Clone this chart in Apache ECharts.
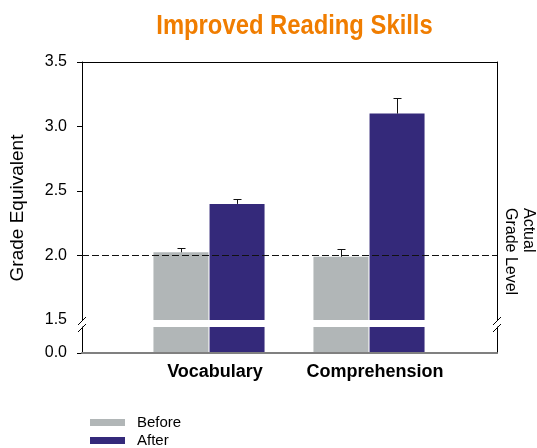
<!DOCTYPE html>
<html>
<head>
<meta charset="utf-8">
<script src="https://cdn.jsdelivr.net/npm/echarts@6/dist/echarts.min.js"></script>
<style>html,body{margin:0;padding:0;background:#fff;}#c{width:537px;height:448px;}</style>
</head>
<body>
<div id="c"></div>
<script>
// ---- data ----
var categories = ['Vocabulary', 'Comprehension'];
var beforeValues = [2.025, 1.99];
var afterValues = [2.40, 3.10];
var beforeErr = [0.03, 0.06];
var afterErr = [0.04, 0.12];
var actualGradeLevel = 2.0;
var topTickLabels = [1.5, 2.0, 2.5, 3.0, 3.5];
var bottomTickLabels = [0.0];

// ---- layout ----
var L = 82, W = 415, TOP = 62, TOPH = 258, BOT = 327, BOTH = 26;
var BL = 129, BW = 320;
var BAR_W = 55;
var GRAY = '#b1b6b7', PURPLE = '#34297a';
var FONT = 'Liberation Sans, Arial, Helvetica, sans-serif';

var chart = echarts.init(document.getElementById('c'), null, {renderer: 'canvas'});

function errData(vals, errs, sign) {
  return vals.map(function (v, i) { return [i, v, errs[i], sign]; });
}
function renderErr(params, api) {
  var ci = api.value(0), v = api.value(1), e = api.value(2), s = api.value(3);
  var p0 = api.coord([ci, v]);
  var p1 = api.coord([ci, v + e]);
  var x = Math.round(p0[0] + s * (BAR_W + 1) / 2) + 0.5;
  var yb = p0[1], yt = Math.round(p1[1]) + 0.5;
  var st = {stroke: '#111', lineWidth: 1};
  return {type: 'group', children: [
    {type: 'line', shape: {x1: x, y1: yb, x2: x, y2: yt}, style: st},
    {type: 'line', shape: {x1: x - 4, y1: yt, x2: x + 4, y2: yt}, style: st}
  ]};
}

var hidden = {show: false};
var option = {
  animation: false,
  backgroundColor: '#fff',
  legend: {
    data: ['Before', 'After'],
    orient: 'vertical', left: 90, top: 414, width: 150, height: 60, padding: 0,
    itemWidth: 35, itemHeight: 7, itemGap: 1, icon: 'rect',
    textStyle: {fontFamily: FONT, fontSize: 15, color: '#000', lineHeight: 17, padding: [0, 0, 0, 7]}
  },
  grid: [
    {left: L, top: TOP, width: W, height: TOPH},
    {left: BL, top: TOP, width: BW, height: TOPH},
    {left: L, top: BOT, width: W, height: BOTH},
    {left: BL, top: BOT, width: BW, height: BOTH}
  ],
  xAxis: [
    {gridIndex: 0, type: 'value', min: 0, max: 1, position: 'top',
     axisLine: {show: true, onZero: false, lineStyle: {color: '#000', width: 1}},
     axisTick: hidden, axisLabel: hidden, splitLine: hidden},
    {gridIndex: 1, type: 'category', data: categories, show: false},
    {gridIndex: 2, type: 'value', min: 0, max: 1, position: 'bottom',
     axisLine: {show: true, onZero: false, lineStyle: {color: '#808080', width: 2}},
     axisTick: hidden, axisLabel: hidden, splitLine: hidden, z: 3},
    {gridIndex: 3, type: 'category', data: categories, position: 'bottom',
     axisLine: hidden, axisTick: hidden, splitLine: hidden,
     axisLabel: {show: true, interval: 0, hideOverlap: false, margin: 10, fontFamily: FONT, fontWeight: 'bold', fontSize: 18, color: '#000', padding: [0, 0, 0, 12]}}
  ],
  yAxis: [
    {gridIndex: 0, type: 'value', position: 'left', min: topTickLabels[0], max: topTickLabels[topTickLabels.length - 1], interval: 0.5,
     axisLine: {show: true, onZero: false, lineStyle: {color: '#000', width: 1}},
     axisTick: {show: true, inside: false, length: 5, lineStyle: {color: '#000'}, customValues: topTickLabels.slice(1)},
     axisLabel: {show: true, margin: 15, fontFamily: FONT, fontSize: 16, color: '#000', customValues: topTickLabels,
                 formatter: function (v) { return Number(v).toFixed(1); }},
     splitLine: hidden},
    {gridIndex: 0, type: 'value', position: 'right', min: 1.5, max: 3.5,
     axisLine: {show: true, onZero: false, lineStyle: {color: '#000', width: 1}},
     axisTick: hidden, axisLabel: hidden, splitLine: hidden},
    {gridIndex: 1, type: 'value', min: 1.5, max: 3.5, show: false, splitLine: hidden},
    {gridIndex: 2, type: 'value', position: 'left', min: 0, max: 0.2,
     axisLine: {show: true, onZero: false, lineStyle: {color: '#000', width: 1}},
     axisTick: {show: true, inside: false, length: 5, lineStyle: {color: '#000'}, customValues: bottomTickLabels},
     axisLabel: {show: true, margin: 15, fontFamily: FONT, fontSize: 16, color: '#000', customValues: bottomTickLabels,
                 formatter: function (v) { return Number(v).toFixed(1); }},
     splitLine: hidden},
    {gridIndex: 2, type: 'value', position: 'right', min: 0, max: 0.2,
     axisLine: {show: true, onZero: false, lineStyle: {color: '#000', width: 1}},
     axisTick: hidden, axisLabel: hidden, splitLine: hidden},
    {gridIndex: 3, type: 'value', min: 0, max: 0.2, show: false, splitLine: hidden}
  ],
  series: [
    {name: 'Before', type: 'bar', xAxisIndex: 1, yAxisIndex: 2, data: beforeValues, barWidth: BAR_W, barGap: '2%',
     itemStyle: {color: GRAY}, clip: true},
    {name: 'After', type: 'bar', xAxisIndex: 1, yAxisIndex: 2, data: afterValues, barWidth: BAR_W, barGap: '2%',
     itemStyle: {color: PURPLE}, clip: true},
    {name: 'Before', type: 'bar', xAxisIndex: 3, yAxisIndex: 5, data: beforeValues, barWidth: BAR_W, barGap: '2%',
     itemStyle: {color: GRAY}, clip: true},
    {name: 'After', type: 'bar', xAxisIndex: 3, yAxisIndex: 5, data: afterValues, barWidth: BAR_W, barGap: '2%',
     itemStyle: {color: PURPLE}, clip: true},
    {name: 'errBefore', type: 'custom', xAxisIndex: 1, yAxisIndex: 2, renderItem: renderErr,
     data: errData(beforeValues, beforeErr, -1), z: 4},
    {name: 'errAfter', type: 'custom', xAxisIndex: 1, yAxisIndex: 2, renderItem: renderErr,
     data: errData(afterValues, afterErr, 1), z: 4},
    {name: 'Actual Grade Level', type: 'line', xAxisIndex: 0, yAxisIndex: 0,
     data: [[0, actualGradeLevel], [1, actualGradeLevel]], symbol: 'none', z: 5,
     lineStyle: {color: '#111', width: 1, type: [7, 3]}}
  ],
  graphic: []
};

// break marks, title and rotated texts
var g = [];
[L, L + W].forEach(function (x) {
  [TOP + TOPH + 1, BOT + 1].forEach(function (y) {
    g.push({type: 'line', shape: {x1: x - 4, y1: y + 4, x2: x + 4, y2: y - 4},
            style: {stroke: '#000', lineWidth: 1}, z: 10});
  });
});
g.push({type: 'text', x: 294.5, y: 12, scaleX: 0.85, scaleY: 1,
  style: {text: 'Improved Reading Skills', fontFamily: FONT, fontWeight: 'bold', fontSize: 28, fill: '#f07d00',
          textAlign: 'center', textVerticalAlign: 'top'}});
g.push({type: 'text', x: 18, y: 208, rotation: Math.PI / 2,
  style: {text: 'Grade Equivalent', fontFamily: FONT, fontSize: 19, fill: '#000', textAlign: 'center', textVerticalAlign: 'middle'}});
g.push({type: 'text', x: 537, y: 208, rotation: -Math.PI / 2,
  style: {text: 'Actual\nGrade Level', fontFamily: FONT, fontSize: 16, lineHeight: 18, fill: '#000', textAlign: 'left', textVerticalAlign: 'top'}});
option.graphic = g;

chart.setOption(option);
</script>
</body>
</html>
